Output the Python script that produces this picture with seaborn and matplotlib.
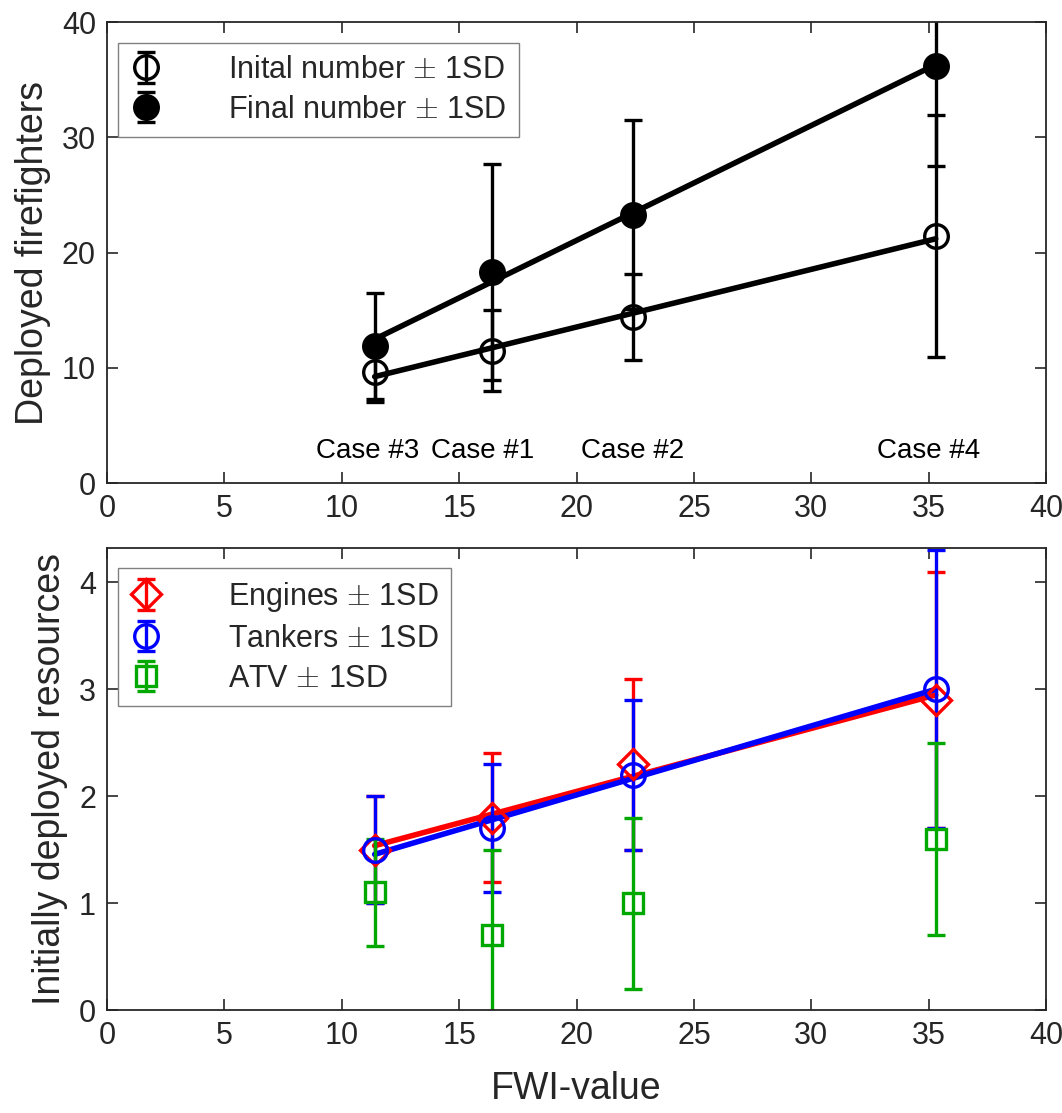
import numpy as np
import matplotlib
matplotlib.use("Agg")
import matplotlib.pyplot as plt
import seaborn as sns

# FWI value of each case
fwi = np.array([11.4, 16.4, 22.4, 35.3])
case_names = ["Case #3", "Case #1", "Case #2", "Case #4"]

# deployed firefighters (mean, 1SD)
initial_mean = np.array([9.6, 11.5, 14.4, 21.4])
initial_sd = np.array([2.6, 3.5, 3.7, 10.5])
final_mean = np.array([11.9, 18.3, 23.3, 36.2])
final_sd = np.array([4.6, 9.4, 8.2, 8.7])

# initially deployed resources (mean, 1SD)
engines_mean = np.array([1.5, 1.8, 2.3, 2.9])
engines_sd = np.array([0.5, 0.6, 0.8, 1.2])
tankers_mean = np.array([1.5, 1.7, 2.2, 3.0])
tankers_sd = np.array([0.5, 0.6, 0.7, 1.3])
atv_mean = np.array([1.1, 0.7, 1.0, 1.6])
atv_sd = np.array([0.5, 0.8, 0.8, 0.9])

sns.set_theme(style="ticks")
plt.rcParams["font.family"] = ["Liberation Sans", "DejaVu Sans"]
plt.rcParams["mathtext.fontset"] = "cm"
plt.rcParams["axes.edgecolor"] = "#262626"
plt.rcParams["axes.linewidth"] = 1.3

fig = plt.figure(figsize=(10.62, 11.13), dpi=100)
ax1 = fig.add_axes([0.1008, 0.566, 0.8842, 0.4142])
ax2 = fig.add_axes([0.1008, 0.0925, 0.8842, 0.4151])

eb_kws = dict(linestyle="none", elinewidth=2.4, capsize=6.3, capthick=3.0, mew=2.4)
fit_kws = dict(ci=None, scatter=False, truncate=True)
leg_kws = dict(loc="upper left", borderaxespad=0, fontsize=22, fancybox=False,
               edgecolor="#808080", framealpha=1, handlelength=1.0,
               handletextpad=2.2, borderpad=0.4, labelspacing=0.32)

# top panel
ax1.errorbar(fwi, initial_mean, yerr=initial_sd, color="black", marker="o", ms=17,
             mfc="none", label=r"Inital number $\pm$ 1SD", **eb_kws)
sns.regplot(x=fwi, y=initial_mean, ax=ax1, color="black", line_kws={"lw": 4}, **fit_kws)
ax1.errorbar(fwi, final_mean, yerr=final_sd, color="black", marker="o", ms=17,
             mfc="black", label=r"Final number $\pm$ 1SD", **eb_kws)
sns.regplot(x=fwi, y=final_mean, ax=ax1, color="black", line_kws={"lw": 4}, **fit_kws)

label_shift = [-0.3, -0.4, 0.0, -0.3]
for xv, name, dx in zip(fwi, case_names, label_shift):
    ax1.text(xv + dx, 2.8, name, ha="center", va="center", fontsize=20, color="black")

ax1.set_xlim(0, 40)
ax1.set_ylim(0, 40)
ax1.set_xticks(np.arange(0, 41, 5))
ax1.set_yticks(np.arange(0, 41, 10))
ax1.set_ylabel("Deployed firefighters", fontsize=27, color="#262626", labelpad=8)
ax1.legend(bbox_to_anchor=(0.012, 0.955), **leg_kws)

# bottom panel
ax2.errorbar(fwi, engines_mean, yerr=engines_sd, color="#ff0000", marker="D", ms=15,
             mfc="none", label=r"Engines $\pm$ 1SD", **eb_kws)
sns.regplot(x=fwi, y=engines_mean, ax=ax2, color="#ff0000", line_kws={"lw": 4}, **fit_kws)
ax2.errorbar(fwi, tankers_mean, yerr=tankers_sd, color="#0000ff", marker="o", ms=17,
             mfc="none", label=r"Tankers $\pm$ 1SD", **eb_kws)
sns.regplot(x=fwi, y=tankers_mean, ax=ax2, color="#0000ff", line_kws={"lw": 4}, **fit_kws)
ax2.errorbar(fwi, atv_mean, yerr=atv_sd, color="#00a800", marker="s", ms=14,
             mfc="none", label=r"ATV $\pm$ 1SD", **eb_kws)

ax2.set_xlim(0, 40)
ax2.set_ylim(0, 4.32)
ax2.set_xticks(np.arange(0, 41, 5))
ax2.set_yticks(np.arange(0, 5, 1))
ax2.set_xlabel("FWI-value", fontsize=27, color="#262626", labelpad=14)
ax2.set_ylabel("Initially deployed resources", fontsize=27, color="#262626", labelpad=8)
ax2.legend(bbox_to_anchor=(0.012, 0.957), **leg_kws)

for ax in (ax1, ax2):
    ax.tick_params(direction="in", length=8, width=1.2, top=True, right=True,
                   labelsize=22, labelcolor="#262626", color="#262626", pad=8)
    for s in ax.spines.values():
        s.set_visible(True)

fig.savefig("out.png", dpi=100)
